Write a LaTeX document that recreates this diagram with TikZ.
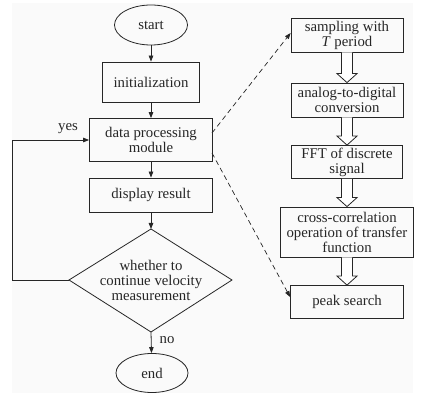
\documentclass[tikz,border=0pt]{standalone}
\usepackage{fontspec}
\setmainfont{Liberation Serif}
\usetikzlibrary{positioning,arrows.meta,calc,shapes.geometric}

\newcommand{\hollowarrow}[2]{%
  \draw[fill=white] ($(#1.south)+(-5.5,0)$) -- ($(#2.north)+(-5.5,-9)$)
    -- ($(#2.north)+(-10,-9)$) -- (#2.north) -- ($(#2.north)+(10,-9)$)
    -- ($(#2.north)+(5.5,-9)$) -- ($(#1.south)+(5.5,0)$);
}

\begin{document}
\begin{tikzpicture}[
    x=1pt, y=-1pt,
    font=\fontsize{14.8}{15}\selectfont,
    color=black!85, line width=0.8pt,
    box/.style={draw, rectangle, align=center, inner sep=0pt},
    term/.style={draw, ellipse, minimum width=73pt, minimum height=40pt, inner sep=0pt},
    flow/.style={-{Triangle[length=6pt,width=4.5pt]}},
    link/.style={dash pattern=on 5pt off 3.5pt, line width=0.7pt, -{Triangle[length=6pt,width=4.5pt]}}
]
\useasboundingbox (0,0) rectangle (432,403);
\fill[black!2] (12,3) rectangle (413,393);

% ---- main flow ----
\node[term] (start) at (151,25) {start};
\node[box, minimum width=97pt, minimum height=40pt] (init) at (151,82) {initialization};
\node[box, minimum width=123pt, minimum height=43pt] (proc) at (151,140) {data processing\\module};
\node[box, minimum width=123pt, minimum height=34pt] (show) at (151,195) {display result};

% decision (drawn as a polygon round its text)
\node[align=center] (check) at (151,280) {whether to\\continue velocity\\measurement};
\coordinate (chkN) at (151,229);
\coordinate (chkE) at (232,280);
\coordinate (chkS) at (151,332);
\coordinate (chkW) at (69,280);
\draw (chkN) -- (chkE) -- (chkS) -- (chkW) -- cycle;

\node[term, minimum width=72pt, minimum height=39pt] (end) at (152,373) {end};

\draw[flow] (start) -- (init);
\draw[flow] (init) -- (proc);
\draw[flow] (proc) -- (show);
\draw[flow] (show) -- (chkN);
\draw[flow] (chkS) -- (end);

% ---- loop back ----
\coordinate (loop) at (12,280);
\draw[flow] (chkW) -- (loop) |- (proc.west);
\node (yes) at (68,129) {yes};
\node (no) at (167,340) {no};

% ---- processing steps ----
\node[box, minimum width=112pt, minimum height=34pt] (sample) at (347,35) {sampling with\\\textit{T} period};
\node[box, minimum width=112pt, minimum height=34pt] (adc) at (347,100) {analog-to-digital\\conversion};
\node[box, minimum width=111pt, minimum height=33pt] (fft) at (347,162) {FFT of discrete\\signal};
\node[box, minimum width=133pt, minimum height=50pt] (xcorr) at (347,232) {cross-correlation\\operation of transfer\\function};
\node[box, minimum width=113pt, minimum height=33pt] (peak) at (347,302) {peak search};

\hollowarrow{sample}{adc}
\hollowarrow{adc}{fft}
\hollowarrow{fft}{xcorr}
\hollowarrow{xcorr}{peak}

% ---- expansion links ----
\coordinate (dA) at (212,133);
\coordinate (dB) at (212,153);
\draw[link] (dA) -- ($(sample.west)+(0,-2)$);
\draw[link] (dB) -- ($(peak.west)+(0,-5)$);

\end{tikzpicture}
\end{document}
